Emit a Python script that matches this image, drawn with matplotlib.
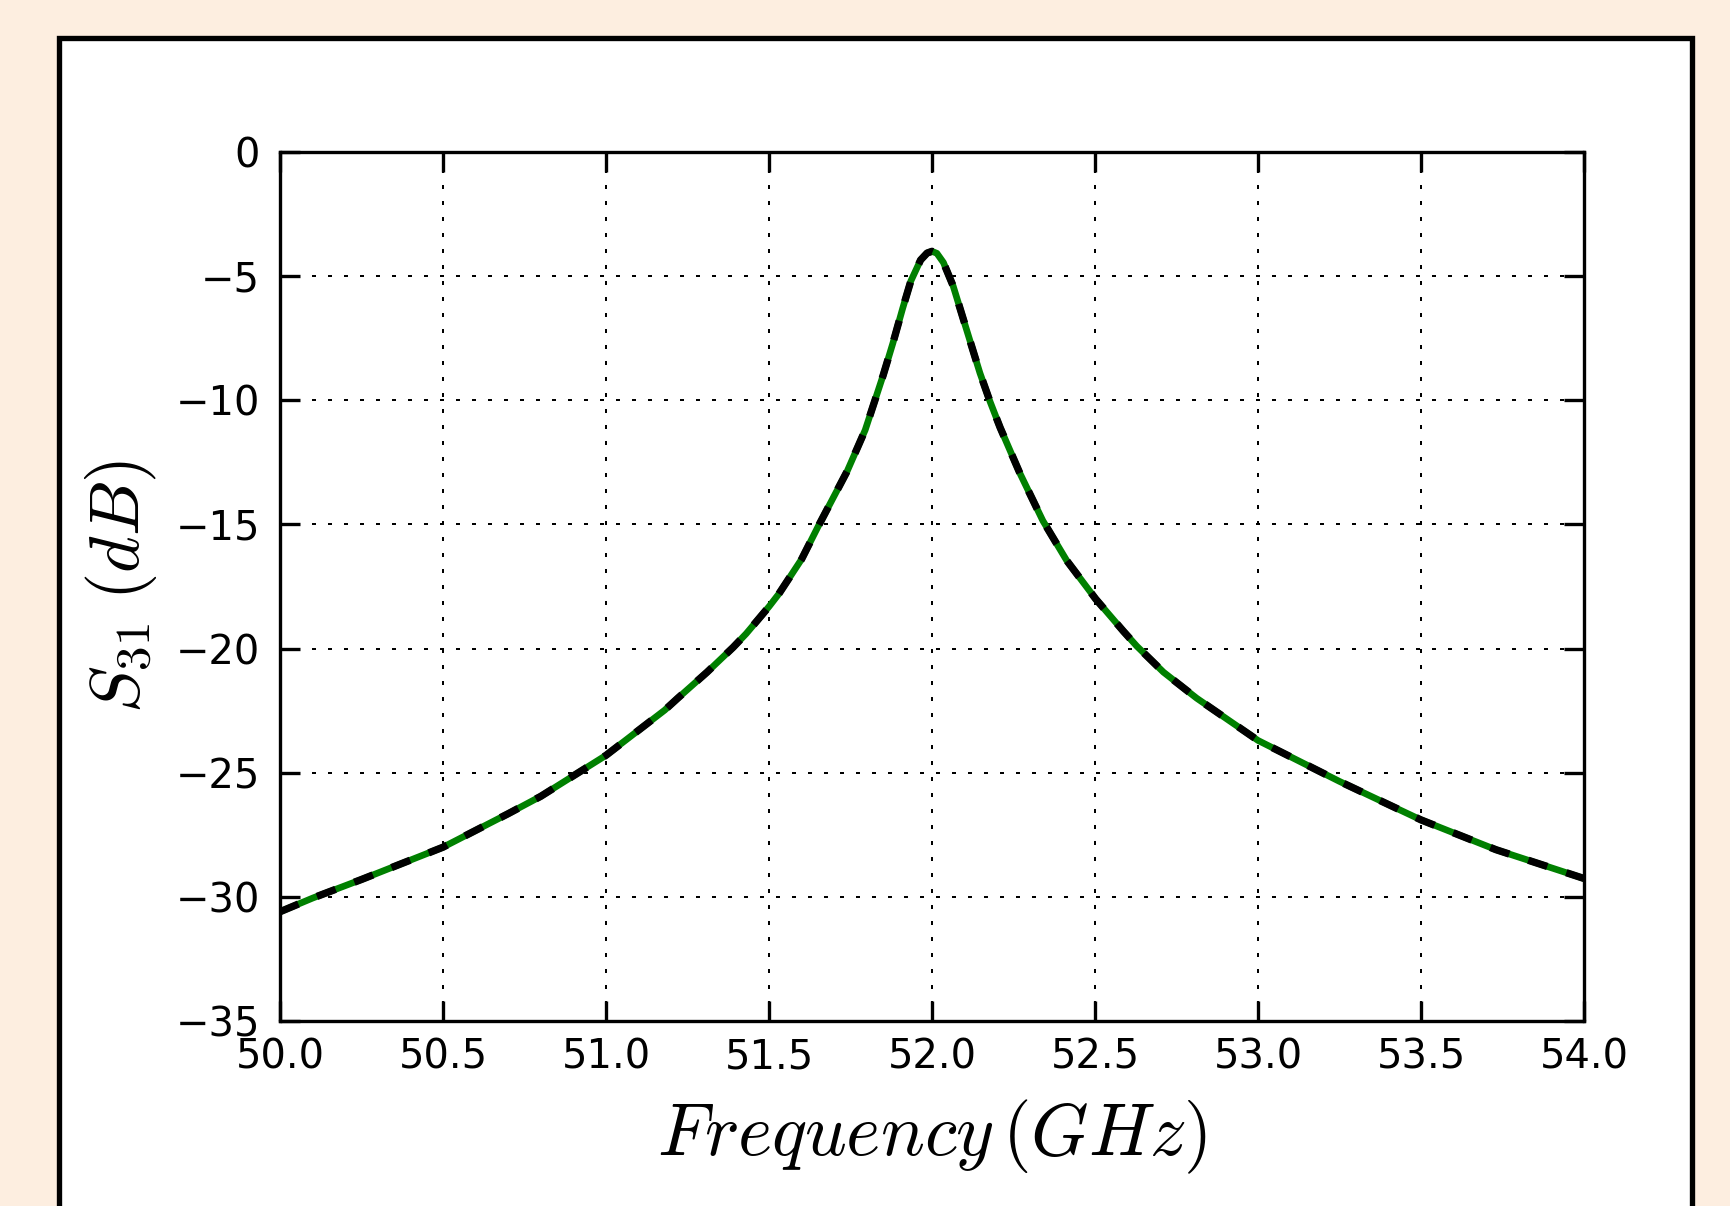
import matplotlib
matplotlib.use("Agg")
import matplotlib.pyplot as plt
from matplotlib.patches import Rectangle

# S31 response (GHz, dB)
freq = [50.0, 50.1, 50.25, 50.5, 50.7, 50.8, 51.0, 51.18, 51.22, 51.31,
        51.39, 51.43, 51.5, 51.53, 51.6, 51.65, 51.68, 51.74, 51.795, 51.82,
        51.85, 51.88, 51.91, 51.935, 51.965, 51.985, 52.0, 52.015, 52.035, 52.065,
        52.1, 52.147, 52.178, 52.209, 52.27, 52.34, 52.413, 52.502, 52.587, 52.628,
        52.71, 52.812, 53.0, 53.25, 53.5, 53.73, 54.0]
s31_sim = [-30.6, -30.05, -29.3, -28.0, -26.65, -25.95, -24.3, -22.48, -22.0, -20.95,
           -19.95, -19.4, -18.31, -17.8, -16.4, -15.1, -14.35, -12.85, -11.2, -10.2,
           -9.0, -7.7, -6.3, -5.2, -4.35, -4.07, -4.0, -4.08, -4.45, -5.4,
           -6.9, -8.9, -10.05, -11.1, -12.95, -14.85, -16.45, -18.0, -19.3, -19.9,
           -20.95, -22.0, -23.7, -25.35, -26.9, -28.1, -29.26]
s31_model = list(s31_sim)

xticks = [50.0, 50.5, 51.0, 51.5, 52.0, 52.5, 53.0, 53.5, 54.0]
yticks = [0, -5, -10, -15, -20, -25, -30, -35]

plt.rcParams['mathtext.fontset'] = 'cm'
plt.rcParams['font.family'] = 'DejaVu Sans'
plt.rcParams['lines.scale_dashes'] = False

fig = plt.figure(figsize=(1730 / 240, 1206 / 240), dpi=240, facecolor='#fdeee0')
# white frame behind the axes
fig.patches.append(Rectangle((59.5 / 1730, -0.2), (1692 - 59.5) / 1730, 1.2 - 37.5 / 1206,
                             transform=fig.transFigure, facecolor='white',
                             edgecolor='black', linewidth=1.6, zorder=-5))

ax = fig.add_axes([280 / 1730, 1 - 1021 / 1206, (1584 - 280) / 1730, (1021 - 152) / 1206])
ax.plot(freq, s31_sim, color='green', linewidth=2.0)
ax.plot(freq, s31_model, color='black', linestyle='--', linewidth=2.2, dashes=(6, 6))

ax.set_xlim(50, 54)
ax.set_ylim(-35, 0)
ax.set_xticks(xticks)
ax.set_xticklabels(['%.1f' % t for t in xticks])
ax.set_yticks(yticks)
ax.grid(True, color='black', linestyle=(0, (1.2, 3.6)), linewidth=0.6)
ax.tick_params(direction='in', length=6, width=1, labelsize=12, top=True, right=True)
ax.tick_params(axis='x', pad=5)
ax.tick_params(axis='y', pad=6)
for s in ax.spines.values():
    s.set_linewidth(1)

ax.set_xlabel(r'$Frequency\,(GHz)$', fontsize=22, labelpad=6)
ax.set_ylabel(r'$S_{31}\;(dB)$', fontsize=21, labelpad=5)

fig.savefig('out.png', dpi=240, facecolor=fig.get_facecolor())
